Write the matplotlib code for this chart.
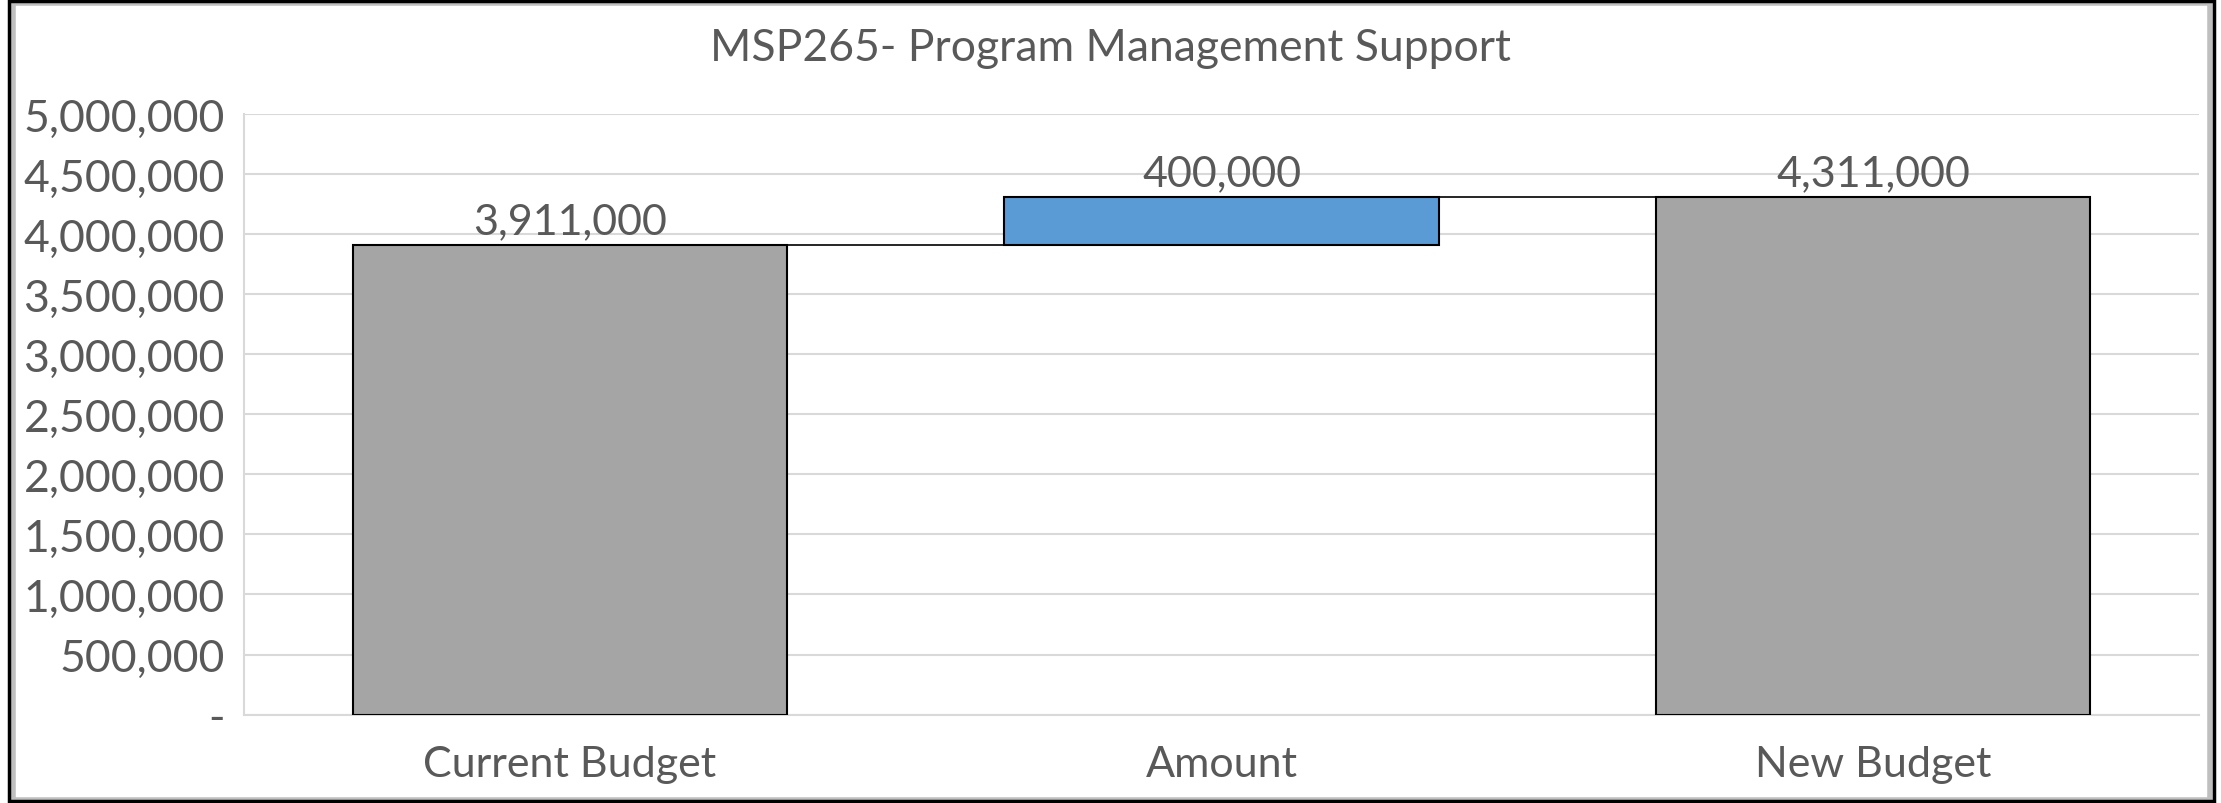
import numpy as np
import matplotlib.pyplot as plt
from matplotlib.patches import Rectangle
from matplotlib.ticker import FuncFormatter

plt.rcParams['font.family'] = ['Lato', 'DejaVu Sans']

categories = ['Current Budget', 'Amount', 'New Budget']
values = [3911000, 400000, 4311000]
is_total = [True, False, True]
value_labels = ['3,911,000', '400,000', '4,311,000']

TEXT = '#595959'
GRID = '#d9d9d9'

fig = plt.figure(figsize=(22.21, 8.04), dpi=100)
ax = fig.add_axes([0.110, 0.110, 0.880, 0.747])

# waterfall bottoms
bottoms, running = [], 0
for v, tot in zip(values, is_total):
    if tot:
        bottoms.append(0)
        running = v
    else:
        bottoms.append(running)
        running += v
tops = [b + v for b, v in zip(bottoms, values)]
colors = ['#a5a5a5' if t else '#5b9bd5' for t in is_total]

x = np.arange(len(categories))
w = 0.667
ax.bar(x, values, bottom=bottoms, width=w, color=colors,
       edgecolor='black', linewidth=1.5, zorder=3)

# connector lines
for i in range(len(x) - 1):
    ax.plot([x[i] + w / 2, x[i + 1] - w / 2], [tops[i], tops[i]],
            color='black', linewidth=1.2, zorder=3)

for xi, top, lab in zip(x, tops, value_labels):
    ax.text(xi, top + 40000, lab, ha='center', va='bottom',
            fontsize=31, color=TEXT)

ax.set_xlim(-0.5, 2.5)
ax.set_ylim(0, 5000000)
ax.set_yticks(np.arange(0, 5000001, 500000))
ax.yaxis.set_major_formatter(FuncFormatter(
    lambda v, p: '-' if v == 0 else f'{int(v):,}'))
ax.set_xticks(x)
ax.set_xticklabels(categories)
ax.tick_params(axis='y', length=0, labelsize=32, labelcolor=TEXT, pad=14)
ax.tick_params(axis='x', length=0, labelsize=31, labelcolor=TEXT, pad=22)
ax.grid(axis='y', color=GRID, linewidth=1.5)
ax.set_axisbelow(True)
for s in ['top', 'right']:
    ax.spines[s].set_visible(False)
for s in ['left', 'bottom']:
    ax.spines[s].set_color(GRID)
    ax.spines[s].set_linewidth(1.5)

fig.text(0.5, 0.940, 'MSP265- Program Management Support', ha='center',
         va='center', fontsize=32, color=TEXT)

# chart frame
fig.patches.append(Rectangle((0.006, 0.004), 0.989, 0.991, transform=fig.transFigure,
                             fill=False, edgecolor='#bfbfbf', linewidth=4))
fig.patches.append(Rectangle((0.004, 0.002), 0.993, 0.995, transform=fig.transFigure,
                             fill=False, edgecolor='black', linewidth=2.5))

fig.savefig('out.png', dpi=100)
